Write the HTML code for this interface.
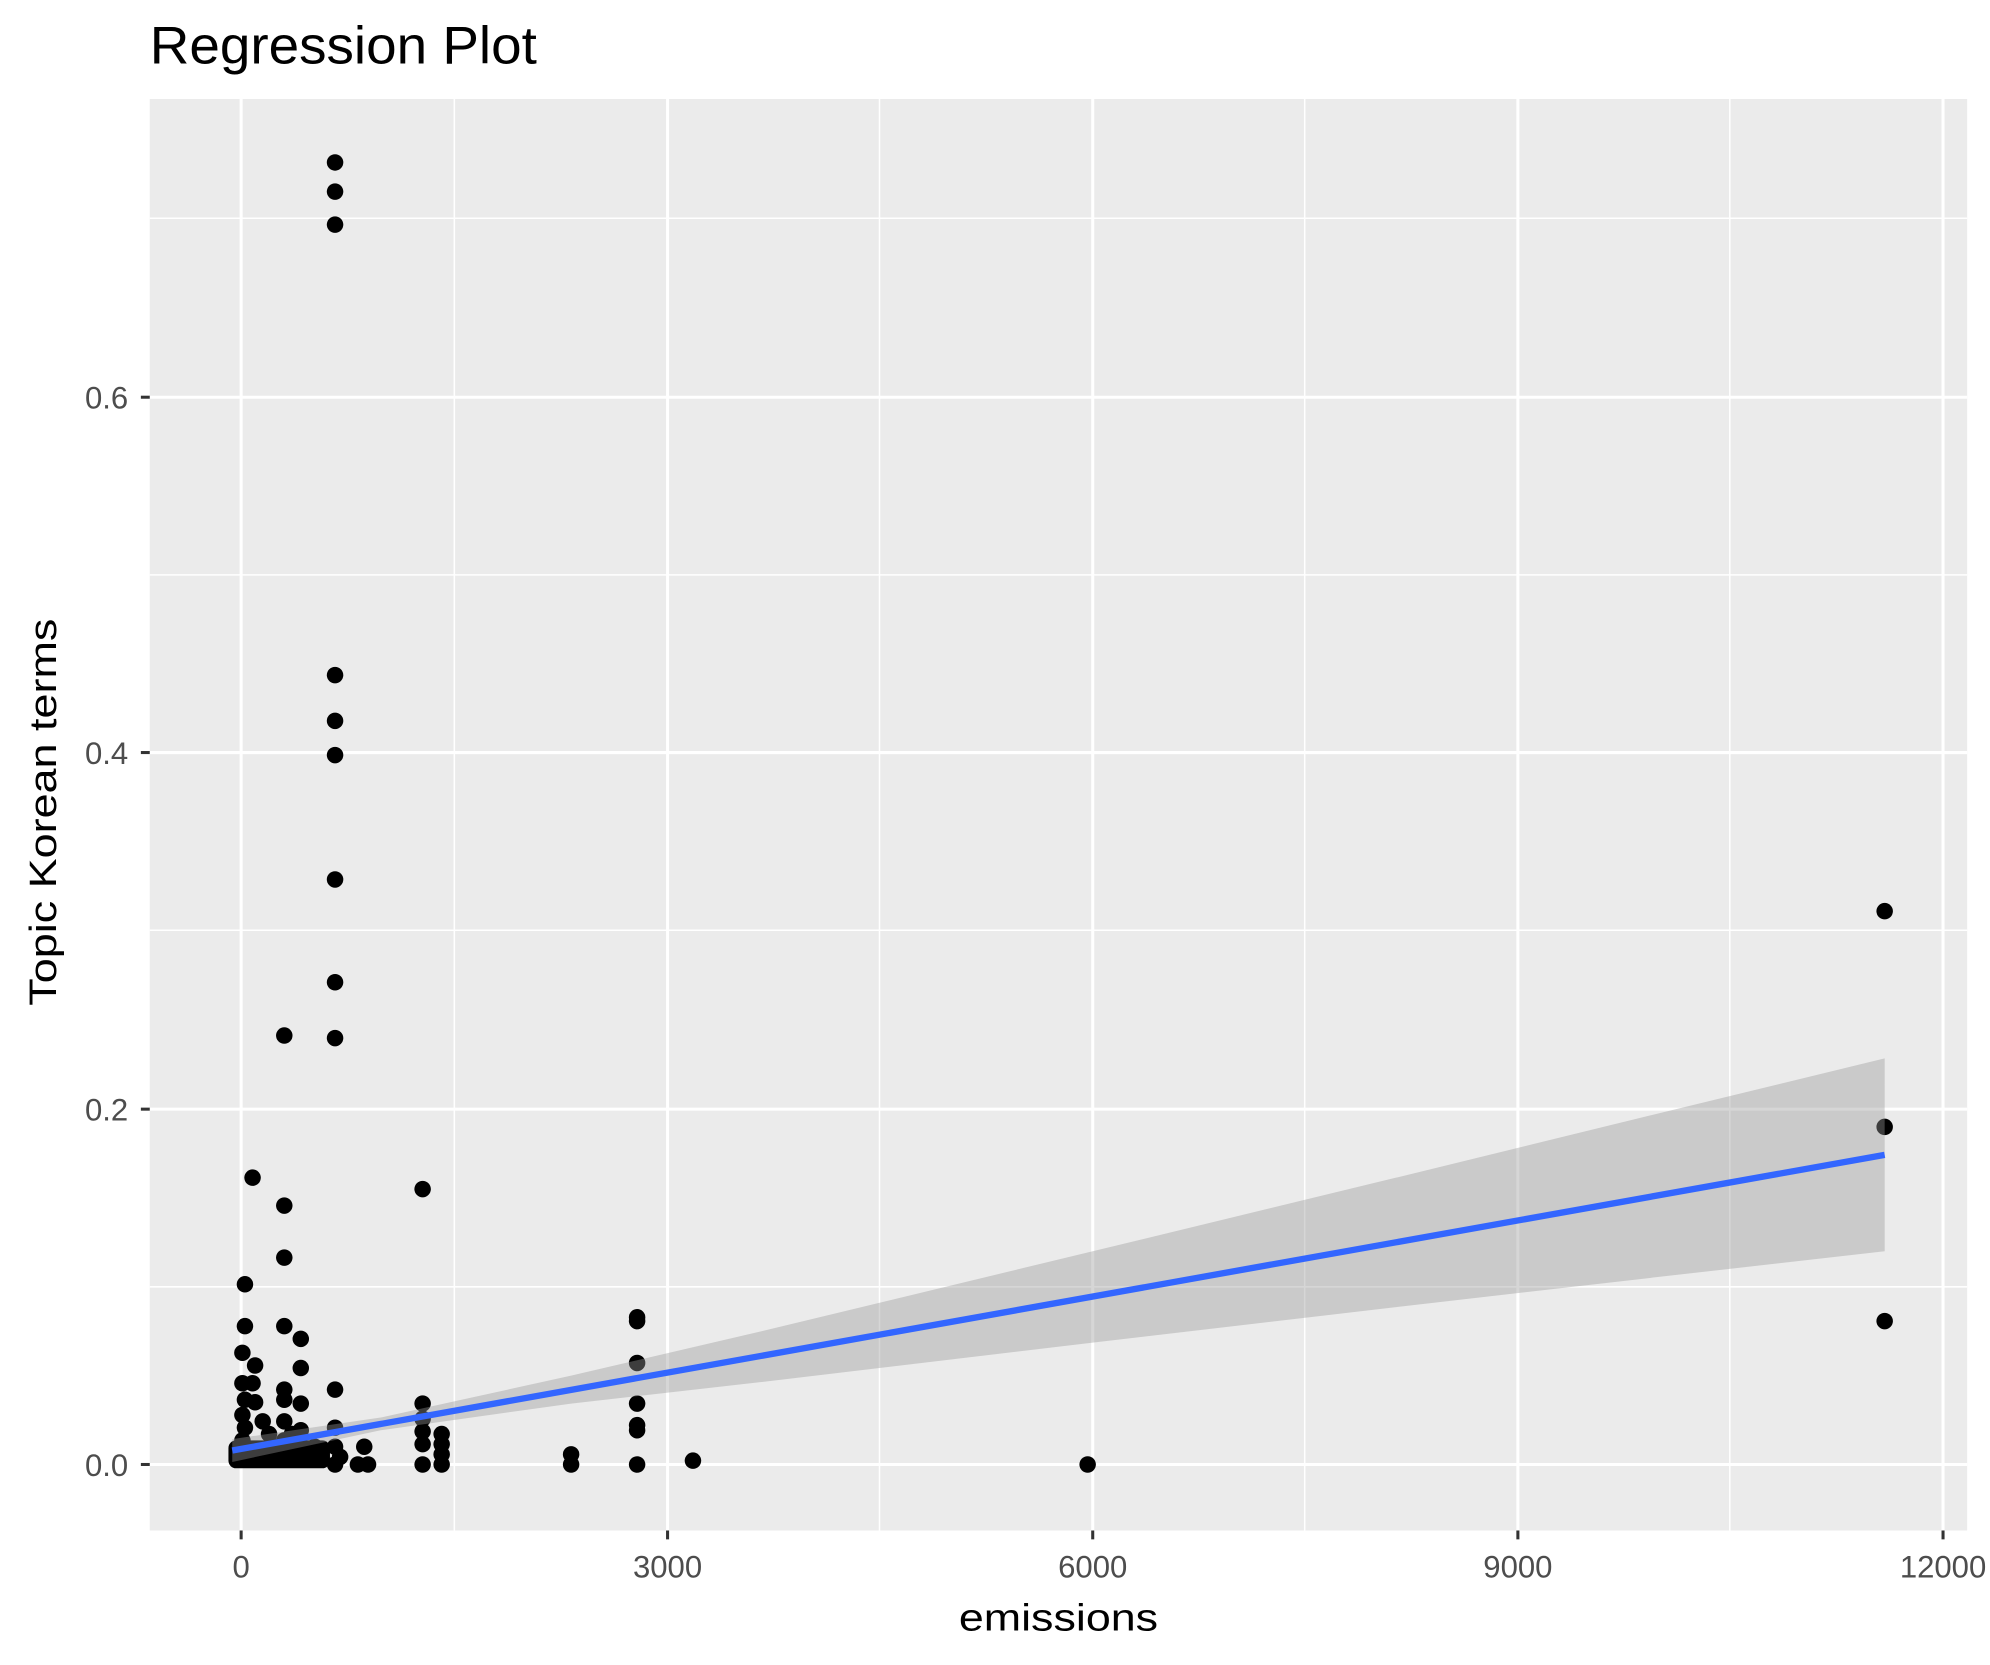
<!DOCTYPE html>
<html><head><meta charset="utf-8"><style>html,body{margin:0;padding:0;background:#fff}svg{display:block}</style></head>
<body>
<svg width="1990" height="1665" viewBox="0 0 1568 1312" preserveAspectRatio="none" xmlns="http://www.w3.org/2000/svg" font-family="Liberation Sans, Arial, sans-serif">
<rect x="0" y="0" width="1568" height="1312" fill="#fff"/>
<text x="118" y="50" font-size="42" fill="#000" textLength="305" lengthAdjust="spacingAndGlyphs">Regression Plot</text>
<rect x="118" y="78" width="1432" height="1128" fill="#ebebeb"/>
<g stroke="#fff" stroke-width="1.2">
<line x1="358" y1="78" x2="358" y2="1206"/><line x1="693" y1="78" x2="693" y2="1206"/><line x1="1028" y1="78" x2="1028" y2="1206"/><line x1="1363" y1="78" x2="1363" y2="1206"/>
<line x1="118" y1="1014" x2="1550" y2="1014"/><line x1="118" y1="733" x2="1550" y2="733"/><line x1="118" y1="453" x2="1550" y2="453"/><line x1="118" y1="172" x2="1550" y2="172"/>
</g>
<g stroke="#fff" stroke-width="2.4">
<line x1="190" y1="78" x2="190" y2="1206"/><line x1="526" y1="78" x2="526" y2="1206"/><line x1="861" y1="78" x2="861" y2="1206"/><line x1="1196" y1="78" x2="1196" y2="1206"/><line x1="1531" y1="78" x2="1531" y2="1206"/>
<line x1="118" y1="1154" x2="1550" y2="1154"/><line x1="118" y1="874" x2="1550" y2="874"/><line x1="118" y1="593" x2="1550" y2="593"/><line x1="118" y1="313" x2="1550" y2="313"/>
</g>
<g fill="#000">
<circle cx="264" cy="128" r="6.5"/><circle cx="264" cy="151" r="6.5"/><circle cx="264" cy="177" r="6.5"/><circle cx="264" cy="532" r="6.5"/><circle cx="264" cy="568" r="6.5"/><circle cx="264" cy="595" r="6.5"/><circle cx="264" cy="693" r="6.5"/><circle cx="264" cy="774" r="6.5"/><circle cx="264" cy="818" r="6.5"/><circle cx="264" cy="1095" r="6.5"/><circle cx="264" cy="1125" r="6.5"/><circle cx="264" cy="1140" r="6.5"/><circle cx="264" cy="1154" r="6.5"/>
<circle cx="224" cy="816" r="6.5"/><circle cx="224" cy="950" r="6.5"/><circle cx="224" cy="991" r="6.5"/><circle cx="224" cy="1045" r="6.5"/><circle cx="224" cy="1095" r="6.5"/><circle cx="224" cy="1103" r="6.5"/><circle cx="224" cy="1120" r="6.5"/><circle cx="224" cy="1135" r="6.5"/>
<circle cx="199" cy="928" r="6.5"/><circle cx="201" cy="1076" r="6.5"/><circle cx="199" cy="1090" r="6.5"/><circle cx="201" cy="1105" r="6.5"/>
<circle cx="193" cy="1012" r="6.5"/><circle cx="193" cy="1045" r="6.5"/><circle cx="191" cy="1066" r="6.5"/><circle cx="191" cy="1090" r="6.5"/><circle cx="193" cy="1103" r="6.5"/><circle cx="191" cy="1115" r="6.5"/><circle cx="193" cy="1125" r="6.5"/><circle cx="191" cy="1135" r="6.5"/><circle cx="193" cy="1145" r="6.5"/>
<circle cx="207" cy="1120" r="6.5"/><circle cx="212" cy="1130" r="6.5"/><circle cx="217" cy="1140" r="6.5"/><circle cx="230" cy="1130" r="6.5"/><circle cx="248" cy="1140" r="6.5"/>
<circle cx="237" cy="1055" r="6.5"/><circle cx="237" cy="1078" r="6.5"/><circle cx="237" cy="1106" r="6.5"/><circle cx="237" cy="1127" r="6.5"/>
<circle cx="333" cy="937" r="6.5"/><circle cx="333" cy="1106" r="6.5"/><circle cx="333" cy="1118" r="6.5"/><circle cx="333" cy="1128" r="6.5"/><circle cx="333" cy="1138" r="6.5"/><circle cx="333" cy="1154" r="6.5"/>
<circle cx="348" cy="1130" r="6.5"/><circle cx="348" cy="1138" r="6.5"/><circle cx="348" cy="1146" r="6.5"/><circle cx="348" cy="1154" r="6.5"/>
<circle cx="450" cy="1146" r="6.5"/><circle cx="450" cy="1154" r="6.5"/>
<circle cx="502" cy="1038" r="6.5"/><circle cx="502" cy="1041" r="6.5"/><circle cx="502" cy="1074" r="6.5"/><circle cx="502" cy="1106" r="6.5"/><circle cx="502" cy="1123" r="6.5"/><circle cx="502" cy="1127" r="6.5"/><circle cx="502" cy="1154" r="6.5"/>
<circle cx="546" cy="1151" r="6.5"/><circle cx="857" cy="1154" r="6.5"/>
<circle cx="1485" cy="718" r="6.5"/><circle cx="1485" cy="888" r="6.5"/><circle cx="1485" cy="1041" r="6.5"/>
<circle cx="268" cy="1148" r="6.5"/><circle cx="282" cy="1154" r="6.5"/><circle cx="287" cy="1140" r="6.5"/><circle cx="290" cy="1154" r="6.5"/><circle cx="246" cy="1147" r="6.5"/>
<rect x="180" y="1135" width="80" height="22" rx="6"/>
</g>
<polygon fill="#999" fill-opacity="0.4" points="183,1134 300,1117 450,1084 600,1049 861,986 1100,928 1300,879 1485,834 1485,986 1300,1007 1100,1030 861,1058 600,1089 450,1106 300,1127 183,1152"/>
<line x1="183" y1="1143" x2="1485" y2="910" stroke="#3366ff" stroke-width="5"/>
<g stroke="#333" stroke-width="2.4">
<line x1="111" y1="1154" x2="118" y2="1154"/><line x1="111" y1="874" x2="118" y2="874"/><line x1="111" y1="593" x2="118" y2="593"/><line x1="111" y1="313" x2="118" y2="313"/>
<line x1="190" y1="1206" x2="190" y2="1213"/><line x1="526" y1="1206" x2="526" y2="1213"/><line x1="861" y1="1206" x2="861" y2="1213"/><line x1="1196" y1="1206" x2="1196" y2="1213"/><line x1="1531" y1="1206" x2="1531" y2="1213"/>
</g>
<g font-size="24.5" fill="#4d4d4d" text-anchor="end">
<text x="101" y="1163">0.0</text><text x="101" y="883">0.2</text><text x="101" y="602">0.4</text><text x="101" y="322">0.6</text>
</g>
<g font-size="24.5" fill="#4d4d4d" text-anchor="middle">
<text x="190" y="1243">0</text><text x="526" y="1243">3000</text><text x="861" y="1243">6000</text><text x="1196" y="1243">9000</text><text x="1531" y="1243">12000</text>
</g>
<text x="834" y="1285" font-size="30" text-anchor="middle" fill="#000" textLength="157" lengthAdjust="spacingAndGlyphs">emissions</text>
<text transform="translate(44,640) rotate(-90)" font-size="30" text-anchor="middle" fill="#000" textLength="305" lengthAdjust="spacingAndGlyphs">Topic Korean terms</text>
</svg>
</body></html>
